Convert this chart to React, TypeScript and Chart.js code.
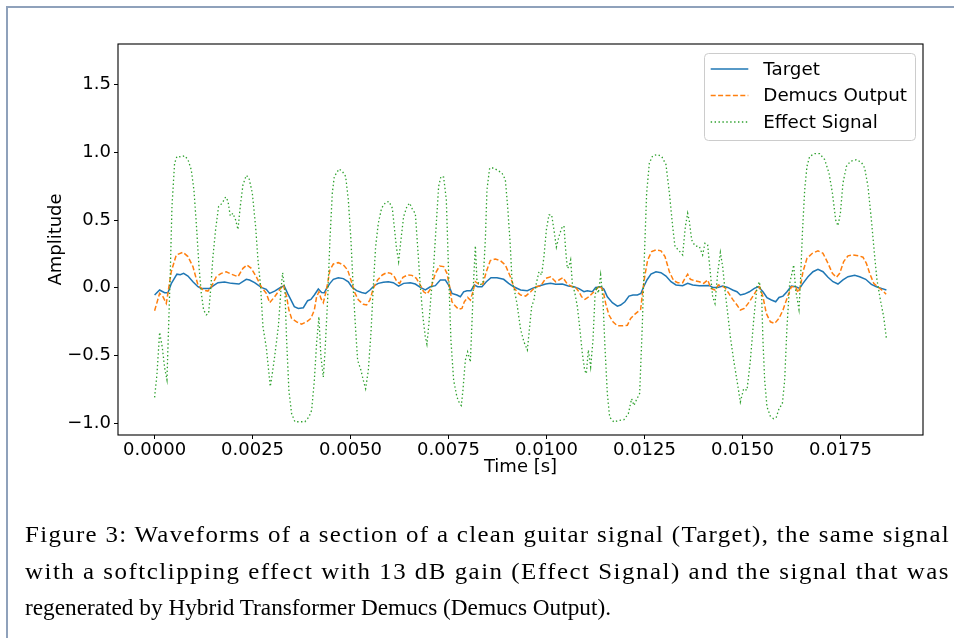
import React, { useEffect, useLayoutEffect, useRef } from 'react';
import { Chart, registerables } from 'chart.js';

Chart.register(...registerables);

// ---- data (time in ms, amplitude) ----
const X_TICKS = [0, 0.0025, 0.005, 0.0075, 0.01, 0.0125, 0.015, 0.0175];
const Y_TICKS = [-1.0, -0.5, 0, 0.5, 1.0, 1.5];
const SERIES_LABELS = ['Target', 'Demucs Output', 'Effect Signal'];
const X_TITLE = 'Time [s]';
const Y_TITLE = 'Amplitude';

const TARGET: [number, number][] = [
  [0.000,-0.054],[0.128,-0.017],[0.255,-0.037],[0.340,-0.037],[0.425,0.03],[0.570,0.10],[0.655,0.096],[0.740,0.106],[0.851,0.086],[0.978,0.044],
  [1.106,0.007],[1.191,-0.005],[1.404,-0.005],[1.531,0.02],[1.617,0.037],[1.786,0.042],[1.957,0.032],[2.153,0.027],[2.340,0.062],[2.424,0.057],
  [2.552,0.037],[2.722,0.002],[2.850,-0.012],[2.935,-0.042],[3.063,-0.025],[3.241,0.007],[3.310,0.012],[3.394,-0.042],[3.479,-0.09],[3.565,-0.14],
  [3.667,-0.153],[3.795,-0.148],[3.905,-0.096],[3.989,-0.086],[4.076,-0.054],[4.178,-0.01],[4.262,-0.035],[4.331,-0.037],[4.415,0.007],[4.474,0.032],
  [4.561,0.062],[4.688,0.074],[4.816,0.067],[4.943,0.044],[5.028,0.007],[5.155,-0.022],[5.283,-0.035],[5.385,-0.042],[5.495,-0.017],[5.607,0.015],
  [5.709,0.032],[5.837,0.04],[5.964,0.044],[6.092,0.037],[6.227,0.012],[6.355,0.032],[6.526,0.037],[6.653,0.027],[6.781,0.002],[6.908,-0.017],
  [7.036,0.007],[7.164,0.015],[7.291,0.057],[7.419,0.057],[7.503,0.02],[7.587,-0.042],[7.715,-0.054],[7.802,-0.067],[7.886,-0.03],[7.970,-0.022],
  [8.072,-0.022],[8.159,0.02],[8.243,0.007],[8.353,0.007],[8.465,0.044],[8.583,0.074],[8.736,0.074],[8.907,0.062],[9.034,0.032],[9.162,0.007],
  [9.341,-0.017],[9.512,-0.022],[9.639,-0.005],[9.808,0.012],[9.979,0.027],[10.106,0.032],[10.234,0.025],[10.405,0.027],[10.558,0.012],[10.701,0.007],
  [10.829,-0.007],[10.956,-0.03],[11.043,-0.022],[11.171,-0.03],[11.255,0.002],[11.382,0.007],[11.467,-0.012],[11.553,-0.067],[11.681,-0.111],[11.809,-0.136],
  [11.893,-0.128],[12.002,-0.104],[12.105,-0.062],[12.207,-0.054],[12.319,-0.054],[12.411,-0.042],[12.480,0.007],[12.564,0.057],[12.666,0.10],[12.794,0.118],
  [12.922,0.111],[13.049,0.086],[13.177,0.044],[13.305,0.02],[13.475,0.015],[13.603,0.032],[13.731,0.02],[13.901,0.015],[14.156,0.017],[14.241,0.002],
  [14.368,0.002],[14.496,0.012],[14.624,0.002],[14.751,-0.017],[14.861,-0.03],[14.947,-0.054],[15.049,-0.047],[15.177,-0.03],[15.305,-0.005],[15.407,0.007],
  [15.524,-0.03],[15.627,-0.074],[15.739,-0.091],[15.849,-0.104],[15.933,-0.072],[16.035,-0.062],[16.137,-0.03],[16.249,0.012],[16.359,0.007],[16.461,-0.005],
  [16.545,0.032],[16.673,0.081],[16.801,0.118],[16.928,0.136],[17.056,0.118],[17.184,0.077],[17.311,0.044],[17.438,0.027],[17.566,0.057],[17.694,0.081],
  [17.865,0.091],[17.992,0.081],[18.146,0.062],[18.291,0.025],[18.419,0.007],[18.546,-0.005],[18.674,-0.017],
];

const DEMUCS: [number, number][] = [
  [0.000,-0.17],[0.128,-0.042],[0.213,-0.067],[0.298,-0.116],[0.340,-0.04],[0.425,0.118],[0.553,0.242],[0.723,0.262],[0.851,0.23],[0.978,0.156],
  [1.106,0.02],[1.234,-0.017],[1.361,-0.025],[1.446,0.007],[1.574,0.081],[1.701,0.106],[1.829,0.118],[1.957,0.10],[2.127,0.081],[2.255,0.143],
  [2.356,0.168],[2.467,0.143],[2.595,0.081],[2.722,0.007],[2.850,-0.042],[2.935,-0.111],[3.063,-0.067],[3.198,-0.012],[3.284,0.02],[3.369,-0.067],
  [3.427,-0.165],[3.496,-0.227],[3.624,-0.252],[3.752,-0.269],[3.879,-0.252],[3.989,-0.227],[4.076,-0.165],[4.134,-0.067],[4.193,-0.03],[4.244,-0.079],
  [4.305,-0.111],[4.364,-0.042],[4.415,0.032],[4.474,0.131],[4.561,0.175],[4.688,0.185],[4.816,0.168],[4.926,0.131],[5.010,0.057],[5.097,-0.03],
  [5.199,-0.09],[5.326,-0.123],[5.410,-0.128],[5.495,-0.09],[5.581,-0.005],[5.691,0.057],[5.811,0.094],[5.921,0.111],[6.031,0.106],[6.117,0.081],
  [6.184,0.044],[6.253,0.032],[6.337,0.077],[6.457,0.094],[6.567,0.091],[6.679,0.069],[6.781,0.02],[6.865,-0.03],[6.949,-0.047],[7.051,-0.005],
  [7.164,0.106],[7.273,0.16],[7.376,0.156],[7.460,0.106],[7.529,0.007],[7.587,-0.104],[7.674,-0.136],[7.758,-0.16],[7.842,-0.153],[7.903,-0.104],
  [7.988,-0.072],[8.057,-0.091],[8.123,-0.03],[8.185,0.044],[8.269,0.027],[8.379,0.027],[8.465,0.118],[8.567,0.2],[8.695,0.212],[8.823,0.2],
  [8.950,0.168],[9.078,0.081],[9.180,-0.005],[9.290,-0.042],[9.341,-0.054],[9.468,-0.062],[9.596,-0.03],[9.723,0.007],[9.851,0.012],[9.979,0.069],
  [10.106,0.081],[10.234,0.044],[10.318,0.057],[10.420,0.074],[10.532,0.027],[10.660,0.007],[10.744,0.002],[10.829,-0.03],[10.897,-0.067],[10.982,-0.086],
  [11.084,-0.067],[11.186,-0.037],[11.273,-0.012],[11.357,0.015],[11.441,-0.017],[11.510,-0.116],[11.594,-0.202],[11.696,-0.252],[11.809,-0.281],[11.936,-0.281],
  [12.064,-0.277],[12.148,-0.227],[12.258,-0.195],[12.403,-0.16],[12.454,-0.03],[12.513,0.094],[12.582,0.205],[12.684,0.267],[12.794,0.279],[12.922,0.272],
  [13.024,0.23],[13.136,0.118],[13.245,0.052],[13.348,0.037],[13.475,0.037],[13.534,0.069],[13.603,0.10],[13.672,0.062],[13.774,0.052],[13.901,0.044],
  [14.011,0.032],[14.113,0.057],[14.197,-0.005],[14.300,-0.017],[14.386,0.02],[14.470,0.012],[14.555,0.0],[14.642,-0.037],[14.751,-0.086],[14.861,-0.128],
  [14.947,-0.165],[15.049,-0.153],[15.177,-0.104],[15.287,-0.054],[15.389,-0.005],[15.440,0.007],[15.524,-0.067],[15.610,-0.19],[15.713,-0.252],[15.823,-0.264],
  [15.933,-0.227],[16.035,-0.165],[16.137,-0.079],[16.249,0.007],[16.359,0.007],[16.418,-0.037],[16.479,0.007],[16.545,0.118],[16.647,0.217],[16.785,0.254],
  [16.928,0.272],[17.056,0.254],[17.184,0.18],[17.296,0.106],[17.398,0.077],[17.482,0.106],[17.584,0.193],[17.694,0.235],[17.822,0.242],[17.975,0.235],
  [18.077,0.225],[18.163,0.18],[18.248,0.106],[18.350,0.032],[18.452,0.007],[18.580,-0.022],[18.667,-0.049],
];

const EFFECT: [number, number][] = [
  [0.000,-0.81],[0.060,-0.64],[0.128,-0.33],[0.196,-0.44],[0.255,-0.59],[0.315,-0.68],[0.357,-0.29],[0.400,0.11],[0.443,0.60],[0.510,0.92],
  [0.570,0.97],[0.681,0.965],[0.766,0.975],[0.851,0.946],[0.936,0.87],[1.004,0.72],[1.063,0.48],[1.132,0.16],[1.191,-0.04],[1.251,-0.165],
  [1.319,-0.20],[1.378,-0.19],[1.429,-0.02],[1.489,0.23],[1.557,0.43],[1.633,0.60],[1.727,0.625],[1.812,0.67],[1.872,0.64],[1.931,0.53],
  [1.999,0.55],[2.067,0.50],[2.127,0.43],[2.186,0.60],[2.255,0.76],[2.340,0.83],[2.408,0.81],[2.493,0.70],[2.578,0.45],[2.638,0.205],
  [2.705,0.01],[2.765,-0.29],[2.850,-0.44],[2.918,-0.635],[2.952,-0.73],[3.003,-0.635],[3.063,-0.51],
  [3.157,-0.29],[3.223,-0.02],[3.267,0.11],[3.325,-0.02],[3.369,-0.39],[3.427,-0.76],[3.496,-0.93],[3.581,-0.99],[3.708,-0.99],[3.836,-0.99],
  [3.938,-0.955],[4.007,-0.906],[4.076,-0.684],[4.134,-0.41],[4.193,-0.215],[4.244,-0.51],[4.305,-0.66],[4.346,-0.486],[4.415,-0.09],[4.474,0.353],
  [4.535,0.70],[4.586,0.822],[4.645,0.847],[4.704,0.877],[4.790,0.86],[4.875,0.822],[4.943,0.65],[5.010,0.353],[5.071,-0.017],[5.130,-0.31],
  [5.181,-0.536],[5.265,-0.61],[5.326,-0.684],[5.385,-0.746],[5.454,-0.61],[5.520,-0.338],[5.581,0.007],[5.640,0.304],[5.709,0.477],[5.793,0.588],
  [5.895,0.63],[5.980,0.637],[6.066,0.588],
  [6.168,0.304],[6.227,0.193],[6.286,0.353],[6.355,0.526],[6.439,0.6],[6.508,0.625],[6.592,0.57],[6.653,0.55],[6.712,0.304],[6.781,0.007],
  [6.847,-0.215],[6.908,-0.363],[6.949,-0.417],[6.993,-0.289],[7.051,-0.067],[7.120,0.156],[7.189,0.477],[7.248,0.748],[7.307,0.822],[7.376,0.817],
  [7.444,0.65],[7.503,0.106],[7.562,-0.39],[7.631,-0.684],[7.715,-0.807],[7.784,-0.857],[7.827,-0.87],[7.868,-0.758],[7.929,-0.536],[7.988,-0.474],
  [8.057,-0.548],[8.098,-0.264],[8.141,0.057],[8.185,0.309],[8.225,0.057],[8.294,0.02],[8.379,0.032],[8.440,0.353],[8.481,0.723],[8.550,0.884],
  [8.652,0.884],[8.754,0.867],[8.864,0.847],[8.950,0.798],[9.009,0.6],[9.078,0.304],[9.119,0.057],[9.180,-0.017],[9.246,-0.116],
  [9.282,-0.19],[9.341,-0.31],[9.425,-0.40],[9.512,-0.46],[9.570,-0.289],[9.621,-0.14],[9.680,-0.09],[9.741,0.032],[9.808,0.118],[9.877,0.094],
  [9.935,0.23],[9.997,0.427],[10.063,0.538],[10.132,0.538],[10.191,0.427],[10.252,0.30],[10.318,0.378],[10.387,0.44],[10.446,0.457],[10.489,0.279],
  [10.532,0.143],[10.573,0.156],[10.617,0.205],[10.660,0.032],[10.726,-0.042],[10.788,-0.14],[10.846,-0.289],[10.915,-0.486],[10.974,-0.61],[11.017,-0.635],
  [11.068,-0.46],[11.127,-0.585],[11.186,-0.39],[11.237,-0.067],[11.280,0.007],[11.324,-0.04],[11.382,0.094],[11.441,-0.09],[11.492,-0.437],[11.553,-0.783],
  [11.612,-0.956],[11.722,-0.993],[11.849,-0.98],[11.977,-0.975],[12.089,-0.93],[12.173,-0.82],[12.232,-0.87],[12.293,-0.83],[12.378,-0.78],
  [12.447,-0.264],[12.498,0.23],[12.556,0.70],[12.625,0.92],[12.709,0.975],[12.837,0.983],[12.939,0.97],[13.049,0.91],[13.136,0.70],[13.220,0.452],
  [13.279,0.304],[13.365,0.279],[13.475,0.242],[13.544,0.452],[13.603,0.55],[13.646,0.49],[13.705,0.353],[13.789,0.309],[13.901,0.304],[13.985,0.242],
  [14.044,0.328],[14.113,0.316],[14.182,0.106],[14.241,-0.067],[14.300,-0.116],[14.368,0.106],[14.437,0.26],[14.496,0.156],[14.555,-0.017],[14.624,-0.19],
  [14.692,-0.363],[14.777,-0.536],[14.861,-0.684],[14.947,-0.844],[15.032,-0.746],[15.116,-0.758],[15.203,-0.536],[15.287,-0.24],[15.371,0.007],[15.432,0.044],
  [15.491,-0.067],
  [15.524,-0.39],[15.568,-0.684],[15.627,-0.88],[15.713,-0.95],[15.798,-0.968],[15.866,-0.956],[15.933,-0.894],[16.019,-0.857],[16.078,-0.684],[16.137,-0.289],
  [16.206,0.032],[16.264,0.106],[16.308,0.168],[16.359,-0.017],[16.402,-0.09],[16.443,-0.16],[16.479,0.032],[16.530,0.40],[16.589,0.723],[16.647,0.896],
  [16.716,0.97],[16.844,0.99],[16.971,0.99],[17.099,0.946],[17.209,0.847],[17.296,0.70],[17.380,0.50],[17.438,0.457],[17.500,0.55],[17.566,0.773],
  [17.653,0.896],[17.755,0.933],[17.908,0.946],[18.036,0.926],[18.120,0.884],[18.204,0.748],[18.291,0.50],[18.375,0.23],[18.434,0.057],[18.520,-0.09],
  [18.605,-0.215],[18.674,-0.375],
];

const CAPTION_LINES = [
  'Figure 3: Waveforms of a section of a clean guitar signal (Target), the same signal',
  'with a softclipping effect with 13 dB gain (Effect Signal) and the signal that was',
  'regenerated by Hybrid Transformer Demucs (Demucs Output).',
];

const X_MIN = -0.000934;
const X_MAX = 0.019608;
const Y_MIN = -1.088;
const Y_MAX = 1.8;

const toPoints = (arr: [number, number][]) => arr.map(([t, v]) => ({ x: t / 1000, y: v }));

const FONT = '"DejaVu Sans", sans-serif';

const boxLegendPlugin = {
  id: 'boxLegend',
  afterDatasetsDraw(chart: any) {
    const { ctx, chartArea: a } = chart;
    ctx.save();
    // spines
    ctx.strokeStyle = '#000';
    ctx.lineWidth = 1.1;
    ctx.setLineDash([]);
    ctx.strokeRect(a.left, a.top, a.right - a.left, a.bottom - a.top);
    // legend box
    const w = 211, h = 87;
    const x0 = a.right - 8 - w;
    const y0 = a.top + 9;
    ctx.beginPath();
    (ctx as any).roundRect(x0 + 0.5, y0 + 0.5, w, h, 4);
    ctx.fillStyle = 'rgba(255,255,255,0.8)';
    ctx.fill();
    ctx.strokeStyle = '#cccccc';
    ctx.lineWidth = 1;
    ctx.stroke();
    const rows = [16, 42.5, 69];
    chart.data.datasets.forEach((ds: any, i: number) => {
      const y = y0 + rows[i];
      ctx.beginPath();
      ctx.strokeStyle = ds.borderColor;
      ctx.lineWidth = ds.borderWidth;
      ctx.setLineDash(ds.borderDash || []);
      ctx.moveTo(x0 + 6.7, y);
      ctx.lineTo(x0 + 44.3, y);
      ctx.stroke();
      ctx.setLineDash([]);
      ctx.fillStyle = '#000';
      ctx.font = `18.3px ${FONT}`;
      ctx.textBaseline = 'middle';
      ctx.textAlign = 'left';
      ctx.fillText(ds.label, x0 + 59.3, y + 1);
    });
    ctx.restore();
  },
};

export default function App() {
  const canvasRef = useRef<HTMLCanvasElement | null>(null);
  const capRefs = useRef<(HTMLSpanElement | null)[]>([]);

  useEffect(() => {
    const canvas = canvasRef.current;
    if (!canvas) return;
    const tickFont = { family: FONT, size: 18, lineHeight: 1 };
    const titleFont = { family: FONT, size: 18, lineHeight: 1.2 };
    const chart = new Chart(canvas, {
      type: 'line',
      data: {
        datasets: [
          { label: SERIES_LABELS[0], data: toPoints(TARGET), borderColor: '#1f77b4', borderWidth: 1.5, pointRadius: 0, tension: 0, order: 3, fill: false },
          { label: SERIES_LABELS[1], data: toPoints(DEMUCS), borderColor: '#ff7f0e', borderWidth: 1.5, borderDash: [5, 2.4], pointRadius: 0, tension: 0, order: 2, fill: false },
          { label: SERIES_LABELS[2], data: toPoints(EFFECT), borderColor: '#2ca02c', borderWidth: 1.3, borderDash: [1.4, 2.5], pointRadius: 0, tension: 0, order: 1, fill: false },
        ] as any,
      },
      options: {
        responsive: false,
        animation: false,
        events: [],
        layout: { padding: { left: 46, top: 44, right: 31, bottom: 160 } },
        plugins: { legend: { display: false }, tooltip: { enabled: false }, title: { display: false } },
        scales: {
          x: {
            type: 'linear',
            min: X_MIN,
            max: X_MAX,
            afterBuildTicks: (s: any) => { s.ticks = X_TICKS.map((v) => ({ value: v })); },
            afterFit: (s: any) => { s.height = 43; },
            ticks: { callback: (v: any) => Number(v).toFixed(4), font: tickFont, color: '#000', padding: 2, maxRotation: 0, autoSkip: false },
            grid: { display: true, drawOnChartArea: false, drawTicks: true, tickLength: 4, color: '#000', lineWidth: 1 },
            border: { display: false },
            title: { display: true, text: X_TITLE, font: titleFont, color: '#000', padding: { top: 0, bottom: 0 } },
          },
          y: {
            type: 'linear',
            min: Y_MIN,
            max: Y_MAX,
            afterBuildTicks: (s: any) => { s.ticks = Y_TICKS.map((v) => ({ value: v })); },
            afterFit: (s: any) => { s.width = 72; },
            ticks: {
              callback: (v: any) => (Number(v) < 0 ? '\u2212' : '') + Math.abs(Number(v)).toFixed(1),
              font: tickFont, color: '#000', padding: 3, autoSkip: false,
            },
            grid: { display: true, drawOnChartArea: false, drawTicks: true, tickLength: 4, color: '#000', lineWidth: 1 },
            border: { display: false },
            title: { display: true, text: Y_TITLE, font: titleFont, color: '#000', padding: { top: 0, bottom: 0 } },
          },
        },
      } as any,
      plugins: [boxLegendPlugin],
    });
    return () => chart.destroy();
  }, []);

  useLayoutEffect(() => {
    const spans = capRefs.current;
    if (spans.some((s) => !s)) return;
    const w3 = spans[2]!.getBoundingClientRect().width;
    const s3 = 586 / w3;
    spans[2]!.style.transform = `scaleX(${s3})`;
    const s12 = s3 * 1.07;
    [0, 1].forEach((i) => {
      const s = spans[i]!;
      const w = s.getBoundingClientRect().width;
      const n = CAPTION_LINES[i].length;
      const extra = 925 / s12 - w;
      s.style.letterSpacing = `${extra / n}px`;
      s.style.transform = `scaleX(${s12})`;
    });
  }, []);

  const baselines = [541.7, 578.5, 615];
  return (
    <div style={{ position: 'absolute', left: 0, top: 0, width: 954, height: 638, overflow: 'hidden', background: '#fff' }}>
      <canvas ref={canvasRef} width={954} height={638} style={{ position: 'absolute', left: 0, top: 0, width: 954, height: 638 }} />
      <div style={{ position: 'absolute', left: 6, top: 6, width: 960, height: 650, borderTop: '2px solid #8fa1bb', borderLeft: '2px solid #8fa1bb' }} />
      {CAPTION_LINES.map((line, i) => (
        <div key={i} style={{ position: 'absolute', left: 25, top: baselines[i] - 20.9, whiteSpace: 'pre', lineHeight: '26px', height: 26 }}>
          <span
            ref={(el) => { capRefs.current[i] = el; }}
            style={{ display: 'inline-block', fontFamily: '"Liberation Serif", serif', fontSize: 23.5, color: '#000', transformOrigin: '0 0', whiteSpace: 'pre' }}
          >
            {line}
          </span>
        </div>
      ))}
    </div>
  );
}
